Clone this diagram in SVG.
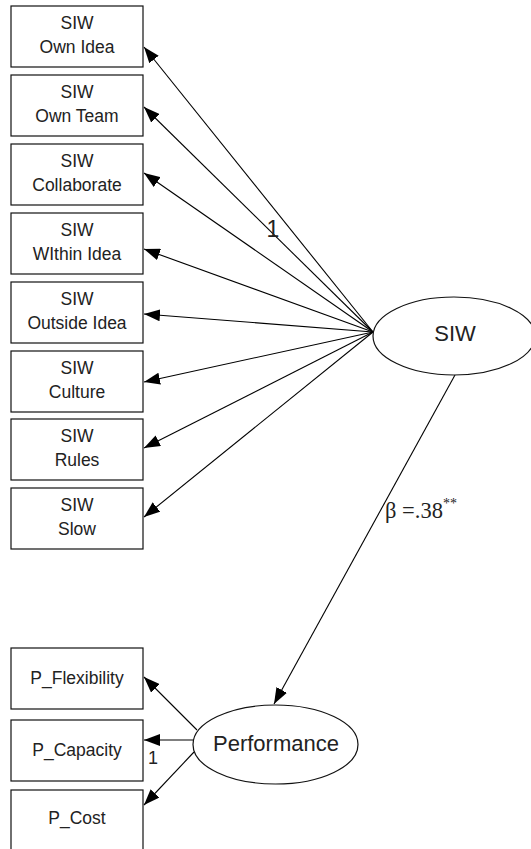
<svg xmlns="http://www.w3.org/2000/svg" width="531" height="849" viewBox="0 0 531 849">
  <defs>
    <marker id="arrow" viewBox="0 0 16 12" refX="16" refY="6" markerWidth="16" markerHeight="12" markerUnits="userSpaceOnUse" orient="auto">
      <path d="M0,0 L16,6 L0,12 Z" fill="#000"/>
    </marker>
    <style>
      .box { fill: #fff; stroke: #111; stroke-width: 1.2; }
      .ell { fill: #fff; stroke: #111; stroke-width: 1.2; }
      .lbl { font-family: "Liberation Sans", Arial, sans-serif; font-size: 17.5px; fill: #222; text-anchor: middle; }
      .big { font-family: "Liberation Sans", Arial, sans-serif; font-size: 22px; fill: #222; text-anchor: middle; }
      .edge { stroke: #000; stroke-width: 1.1; fill: none; marker-end: url(#arrow); }
      .num { font-family: "Liberation Sans", Arial, sans-serif; fill: #222; }
      .coef { font-family: "Liberation Serif", "Times New Roman", serif; fill: #222; }
    </style>
  </defs>
  <rect width="531" height="849" fill="#fff"/>

  <!-- connectors -->
  <g id="connectors">
    <line class="edge" x1="373" y1="332" x2="144" y2="47"/>
    <line class="edge" x1="373" y1="332" x2="144" y2="107"/>
    <line class="edge" x1="373" y1="332" x2="144" y2="173"/>
    <line class="edge" x1="373" y1="332" x2="144" y2="249"/>
    <line class="edge" x1="373" y1="332" x2="144" y2="314"/>
    <line class="edge" x1="373" y1="332" x2="144" y2="382"/>
    <line class="edge" x1="373" y1="332" x2="144" y2="448"/>
    <line class="edge" x1="373" y1="332" x2="144" y2="517"/>
    <line class="edge" x1="455" y1="375" x2="274" y2="704"/>
    <line class="edge" x1="197" y1="730" x2="144" y2="677"/>
    <line class="edge" x1="193" y1="740" x2="144" y2="740"/>
    <line class="edge" x1="194" y1="752" x2="144" y2="805"/>
    <text class="num" x="273" y="237" font-size="23" text-anchor="middle">1</text>
    <text class="num" x="153" y="764" font-size="18" text-anchor="middle">1</text>
    <text class="coef" x="385" y="518" font-size="22.5">β =.38<tspan font-size="14" dy="-10">**</tspan></text>
  </g>

  <!-- observed indicators of SIW -->
  <g id="siw-own-idea">
    <rect class="box" x="11" y="6" width="132" height="61"/>
    <text class="lbl" x="77" y="29">SIW</text>
    <text class="lbl" x="77" y="53">Own Idea</text>
  </g>
  <g id="siw-own-team">
    <rect class="box" x="11" y="75" width="132" height="61"/>
    <text class="lbl" x="77" y="98">SIW</text>
    <text class="lbl" x="77" y="122">Own Team</text>
  </g>
  <g id="siw-collaborate">
    <rect class="box" x="11" y="144" width="132" height="61"/>
    <text class="lbl" x="77" y="167">SIW</text>
    <text class="lbl" x="77" y="191">Collaborate</text>
  </g>
  <g id="siw-within-idea">
    <rect class="box" x="11" y="213" width="132" height="61"/>
    <text class="lbl" x="77" y="236">SIW</text>
    <text class="lbl" x="77" y="260">WIthin Idea</text>
  </g>
  <g id="siw-outside-idea">
    <rect class="box" x="11" y="282" width="132" height="61"/>
    <text class="lbl" x="77" y="305">SIW</text>
    <text class="lbl" x="77" y="329">Outside Idea</text>
  </g>
  <g id="siw-culture">
    <rect class="box" x="11" y="351" width="132" height="61"/>
    <text class="lbl" x="77" y="374">SIW</text>
    <text class="lbl" x="77" y="398">Culture</text>
  </g>
  <g id="siw-rules">
    <rect class="box" x="11" y="419" width="132" height="61"/>
    <text class="lbl" x="77" y="442">SIW</text>
    <text class="lbl" x="77" y="466">Rules</text>
  </g>
  <g id="siw-slow">
    <rect class="box" x="11" y="488" width="132" height="61"/>
    <text class="lbl" x="77" y="511">SIW</text>
    <text class="lbl" x="77" y="535">Slow</text>
  </g>

  <!-- latent SIW -->
  <g id="siw">
    <ellipse class="ell" cx="454" cy="336" rx="81" ry="39"/>
    <text class="big" x="455" y="341">SIW</text>
  </g>

  <!-- observed indicators of Performance -->
  <g id="p-flexibility">
    <rect class="box" x="11" y="648" width="132" height="61"/>
    <text class="lbl" x="77" y="684">P_Flexibility</text>
  </g>
  <g id="p-capacity">
    <rect class="box" x="11" y="720" width="132" height="61"/>
    <text class="lbl" x="77" y="756">P_Capacity</text>
  </g>
  <g id="p-cost">
    <rect class="box" x="11" y="790" width="132" height="61"/>
    <text class="lbl" x="77" y="824">P_Cost</text>
  </g>

  <!-- latent Performance -->
  <g id="performance">
    <ellipse class="ell" cx="275.5" cy="744.5" rx="82.5" ry="39.5"/>
    <text class="big" x="276" y="751">Performance</text>
  </g>
</svg>
